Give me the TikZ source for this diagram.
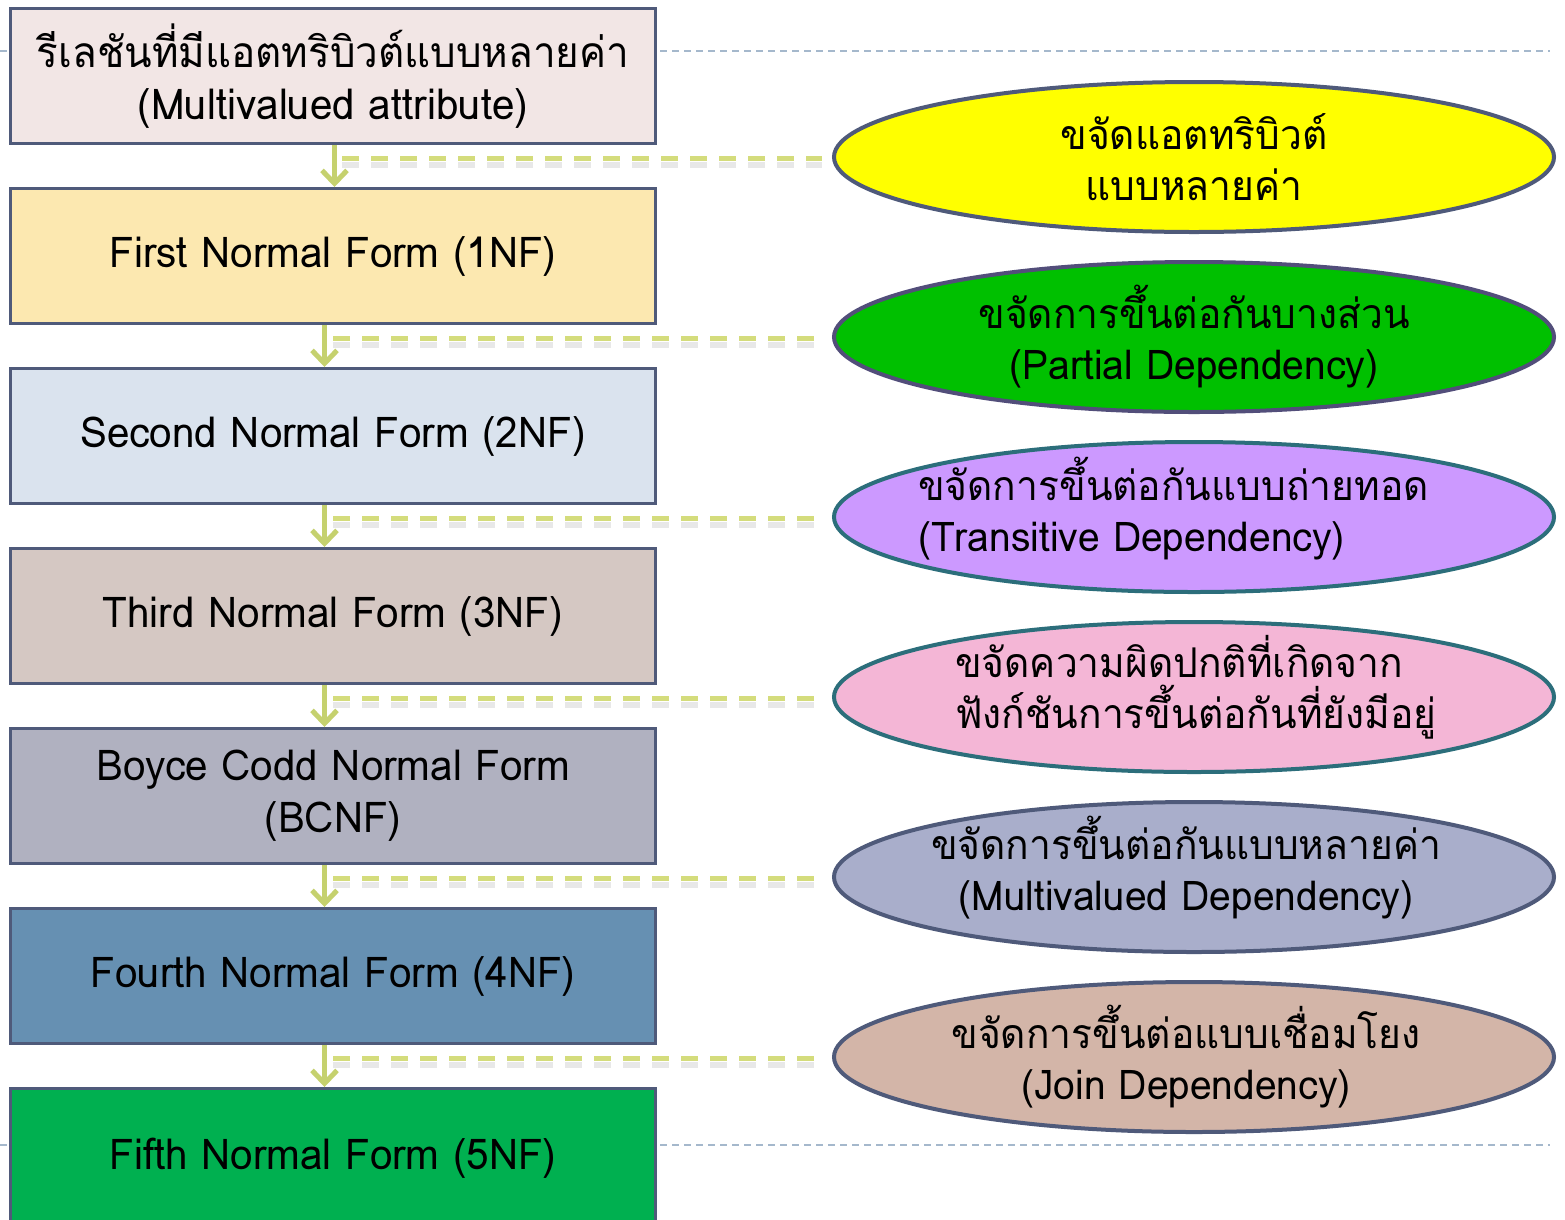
\documentclass[tikz,border=0pt]{standalone}
\usepackage{fontspec}
\setmainfont[Script=Thai, FakeStretch=0.95]{Loma}
\usetikzlibrary{shapes.geometric,arrows.meta}

\definecolor{edge}{HTML}{4F5A7A}
\definecolor{edgeteal}{HTML}{2C6E7B}
\definecolor{edgeplum}{HTML}{524E7A}
\definecolor{flowgreen}{HTML}{C5D16E}
\definecolor{linkgreen}{HTML}{D4DC7C}
\definecolor{guidegray}{HTML}{A5B8CC}
\definecolor{fillA}{HTML}{F2E6E5}
\definecolor{fillB}{HTML}{FCE8B0}
\definecolor{fillC}{HTML}{DAE3EE}
\definecolor{fillD}{HTML}{D5C8C3}
\definecolor{fillE}{HTML}{B0B1C0}
\definecolor{fillF}{HTML}{6690B2}
\definecolor{fillG}{HTML}{00B050}
\definecolor{ovA}{HTML}{FFFF00}
\definecolor{ovB}{HTML}{00C000}
\definecolor{ovC}{HTML}{CC99FF}
\definecolor{ovD}{HTML}{F4B6D6}
\definecolor{ovE}{HTML}{A9AECB}
\definecolor{ovF}{HTML}{D3B5A8}

\tikzset{
  nfbox/.style={draw=edge, line width=3pt, rectangle, anchor=north west,
    minimum width=645pt, minimum height=135pt, inner sep=0pt, align=center,
    font=\fontsize{42.5}{52}\selectfont},
  oval/.style={ellipse, line width=4pt, minimum width=720pt, minimum height=150pt, inner sep=0pt},
  ovaltext/.style={inner sep=0pt, font=\fontsize{41}{51}\selectfont},
  flow/.style={draw=flowgreen, line width=5pt,
    -{Straight Barb[length=13pt, width=25pt, line width=5pt]}},
  link/.style={draw=linkgreen, line width=5pt, dash pattern=on 17pt off 12pt},
  linkshadow/.style={draw=black!9, line width=6pt, dash pattern=on 17pt off 12pt},
  guide/.style={draw=guidegray, line width=2pt, dash pattern=on 7pt off 5pt},
}

\begin{document}
\begin{tikzpicture}[x=1pt, y=-1pt]
\clip (0,0) rectangle (1565,1219);
\fill[white] (0,0) rectangle (1565,1219);

% dashed guide lines behind everything
\coordinate (gA1) at (0,51);
\coordinate (gA2) at (1550,51);
\coordinate (gB1) at (0,1145);
\coordinate (gB2) at (1550,1145);
\draw[guide] (gA1) -- (gA2);
\draw[guide] (gB1) -- (gB2);

% normal form boxes
\node[nfbox, fill=fillA] (b0) at (9,7) {รีเลชันที่มีแอตทริบิวต์แบบหลายค่า\\(Multivalued attribute)};
\node[nfbox, fill=fillB] (b1) at (9,187) {\raisebox{-3pt}{First Normal Form (1NF)}};
\node[nfbox, fill=fillC] (b2) at (9,367) {\raisebox{-3pt}{Second Normal Form (2NF)}};
\node[nfbox, fill=fillD] (b3) at (9,547) {\raisebox{-3pt}{Third Normal Form (3NF)}};
\node[nfbox, fill=fillE] (b4) at (9,727) {Boyce Codd Normal Form\\(BCNF)};
\node[nfbox, fill=fillF] (b5) at (9,907) {\raisebox{-3pt}{Fourth Normal Form (4NF)}};
\node[nfbox, fill=fillG, minimum height=140pt] (b6) at (9,1087) {\raisebox{-2pt}{Fifth Normal Form (5NF)}};

% rules removed at each step
\node[oval, draw=edge, fill=ovA] (e0) at (1194,157) {};
\node[oval, draw=edgeplum, fill=ovB] (e1) at (1194,337) {};
\node[oval, draw=edgeteal, fill=ovC] (e2) at (1194,517) {};
\node[oval, draw=edgeteal, fill=ovD] (e3) at (1194,697) {};
\node[oval, draw=edge, fill=ovE] (e4) at (1194,877) {};
\node[oval, draw=edge, fill=ovF] (e5) at (1194,1057) {};

\node[ovaltext, align=center] (t0) at (e0) {ขจัดแอตทริบิวต์\\แบบหลายค่า};
\node[ovaltext, align=center] (t1) at (e1) {ขจัดการขึ้นต่อกันบางส่วน\\(Partial Dependency)};
\node[ovaltext, align=left, anchor=west] (t2) at (918,509) {ขจัดการขึ้นต่อกันแบบถ่ายทอด\\(Transitive Dependency)};
\node[ovaltext, align=left, anchor=west] (t3) at (955,687) {ขจัดความผิดปกติที่เกิดจาก\\ฟังก์ชันการขึ้นต่อกันที่ยังมีอยู่};
\node[ovaltext, align=center] (t4) at ([xshift=-8pt, yshift=9pt]e4.center) {ขจัดการขึ้นต่อกันแบบหลายค่า\\(Multivalued Dependency)};
\node[ovaltext, align=center] (t5) at ([xshift=-8pt]e5.center) {ขจัดการขึ้นต่อแบบเชื่อมโยง\\(Join Dependency)};

% dashed links from each step arrow to its ellipse, with a soft shadow
\foreach \s/\e/\dx in {b0/e0/9, b1/e1/0, b2/e2/0, b3/e3/0, b4/e4/0, b5/e5/0} {
  \draw[linkshadow] ([xshift=\dx pt, yshift=-8pt]\s.south |- \e.west) -- ([xshift=-10pt, yshift=-8pt]\e.west);
  \draw[link] ([xshift=\dx pt, yshift=-1pt]\s.south |- \e.west) -- ([xshift=-10pt, yshift=-1pt]\e.west);
}

% arrows between consecutive normal forms
\draw[flow] ([xshift=1.5pt]b0.south) -- ([xshift=1.5pt]b1.north);
\draw[flow] ([xshift=-8.5pt]b1.south) -- ([xshift=-8.5pt]b2.north);
\draw[flow] ([xshift=-8.5pt]b2.south) -- ([xshift=-8.5pt]b3.north);
\draw[flow] ([xshift=-8.5pt]b3.south) -- ([xshift=-8.5pt]b4.north);
\draw[flow] ([xshift=-8.5pt]b4.south) -- ([xshift=-8.5pt]b5.north);
\draw[flow] ([xshift=-8.5pt]b5.south) -- ([xshift=-8.5pt]b6.north);
\end{tikzpicture}
\end{document}
